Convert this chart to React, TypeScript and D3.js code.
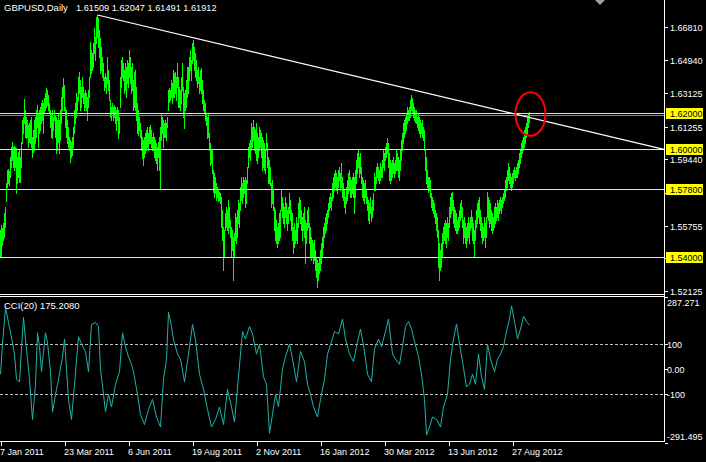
import React from "react";
import * as d3 from "d3";

// ---------- data ----------
const highs = [
1.5552,1.5581,1.5562,1.5589,1.5644,1.5681,1.5811,1.5885,1.5890,1.5877,
1.5959,1.6015,1.6043,1.6015,1.6019,1.6012,1.6006,1.5959,1.5987,1.5996,
1.5959,1.6043,1.6163,1.6181,1.6278,1.6219,1.6181,1.6163,1.6135,1.6144,
1.6163,1.6181,1.6070,1.6107,1.6163,1.6181,1.6219,1.6247,1.6200,1.6219,
1.6237,1.6256,1.6274,1.6256,1.6284,1.6311,1.6339,1.6330,1.6302,1.6256,
1.6219,1.6200,1.6219,1.6181,1.6219,1.6191,1.6181,1.6163,1.6200,1.6163,
1.6219,1.6293,1.6348,1.6395,1.6358,1.6237,1.6219,1.6163,1.6126,1.6070,
1.6052,1.6043,1.6070,1.6126,1.6219,1.6256,1.6311,1.6293,1.6404,1.6432,
1.6385,1.6348,1.6404,1.6348,1.6311,1.6330,1.6311,1.6293,1.6330,1.6404,
1.6598,1.6552,1.6533,1.6589,1.6672,1.6626,1.6737,1.6746,1.6728,1.6663,
1.6617,1.6570,1.6515,1.6478,1.6404,1.6422,1.6404,1.6515,1.6441,1.6385,
1.6274,1.6237,1.6256,1.6237,1.6247,1.6237,1.6219,1.6237,1.6219,1.6181,
1.6404,1.6496,1.6515,1.6478,1.6441,1.6478,1.6459,1.6496,1.6478,1.6552,
1.6515,1.6459,1.6478,1.6385,1.6432,1.6441,1.6348,1.6256,1.6219,1.6181,
1.6144,1.6107,1.6070,1.6052,1.6070,1.6089,1.6107,1.6126,1.6089,1.6126,
1.6135,1.6107,1.6070,1.6089,1.6070,1.6052,1.6033,1.6015,1.6043,1.6070,
1.6126,1.6200,1.6181,1.6163,1.6144,1.6163,1.6144,1.6181,1.6330,1.6339,
1.6330,1.6385,1.6367,1.6441,1.6422,1.6432,1.6404,1.6478,1.6404,1.6348,
1.6330,1.6404,1.6478,1.6348,1.6311,1.6330,1.6385,1.6459,1.6459,1.6515,
1.6552,1.6496,1.6589,1.6607,1.6570,1.6533,1.6496,1.6441,1.6459,1.6404,
1.6441,1.6450,1.6385,1.6330,1.6274,1.6256,1.6200,1.6181,1.6200,1.6089,
1.6033,1.5996,1.5996,1.5885,1.5867,1.5848,1.5811,1.5793,1.5774,1.5765,
1.5756,1.5737,1.5663,1.5570,1.5552,1.5644,1.5681,1.5663,1.5719,1.5681,
1.5607,1.5570,1.5552,1.5515,1.5533,1.5644,1.5626,1.5663,1.5719,1.5700,
1.5793,1.5848,1.5811,1.5848,1.5830,1.5848,1.5830,1.5904,1.6015,1.6033,
1.6052,1.6144,1.6126,1.6163,1.6126,1.6107,1.6144,1.6089,1.6070,1.6126,
1.6107,1.6089,1.6070,1.6052,1.6033,1.5996,1.6089,1.6033,1.5959,1.5941,
1.5904,1.5811,1.5830,1.5774,1.5681,1.5663,1.5607,1.5570,1.5589,1.5644,
1.5663,1.5774,1.5737,1.5700,1.5681,1.5737,1.5700,1.5663,1.5681,1.5756,
1.5719,1.5663,1.5644,1.5570,1.5589,1.5552,1.5626,1.5589,1.5700,1.5737,
1.5719,1.5663,1.5626,1.5644,1.5681,1.5607,1.5589,1.5663,1.5681,1.5589,
1.5570,1.5515,1.5496,1.5478,1.5496,1.5441,1.5404,1.5385,1.5367,1.5404,
1.5441,1.5478,1.5515,1.5570,1.5589,1.5626,1.5644,1.5663,1.5700,1.5737,
1.5756,1.5737,1.5811,1.5848,1.5867,1.5885,1.5867,1.5848,1.5885,1.5904,
1.5867,1.5922,1.5848,1.5811,1.5774,1.5737,1.5793,1.5830,1.5867,1.5885,
1.5848,1.5830,1.5848,1.5867,1.5848,1.5885,1.5941,1.5978,1.5996,1.5959,
1.5978,1.5904,1.5848,1.5830,1.5811,1.5830,1.5774,1.5737,1.5719,1.5700,
1.5737,1.5681,1.5719,1.5756,1.5867,1.5848,1.5904,1.5922,1.5904,1.5885,
1.5922,1.5904,1.5941,1.5996,1.5978,1.6015,1.6033,1.6061,1.6033,1.5978,
1.5941,1.5922,1.5941,1.5959,1.5922,1.5941,1.5996,1.5978,1.5959,1.5941,
1.5996,1.6052,1.6089,1.6144,1.6163,1.6181,1.6200,1.6237,1.6219,1.6237,
1.6274,1.6302,1.6284,1.6256,1.6237,1.6219,1.6219,1.6181,1.6200,1.6181,
1.6163,1.6144,1.6163,1.6126,1.6107,1.5996,1.5959,1.5885,1.5848,1.5848,
1.5830,1.5756,1.5737,1.5719,1.5700,1.5663,1.5644,1.5626,1.5552,1.5478,
1.5441,1.5478,1.5533,1.5570,1.5589,1.5607,1.5589,1.5626,1.5589,1.5681,
1.5737,1.5756,1.5765,1.5719,1.5681,1.5663,1.5644,1.5607,1.5626,1.5663,
1.5700,1.5719,1.5681,1.5607,1.5626,1.5589,1.5570,1.5589,1.5626,1.5589,
1.5626,1.5663,1.5626,1.5589,1.5552,1.5607,1.5663,1.5700,1.5719,1.5737,
1.5663,1.5626,1.5589,1.5570,1.5626,1.5589,1.5626,1.5765,1.5737,1.5719,
1.5700,1.5663,1.5644,1.5626,1.5681,1.5700,1.5681,1.5719,1.5700,1.5719,
1.5737,1.5719,1.5737,1.5756,1.5774,1.5830,1.5848,1.5885,1.5922,1.5904,
1.5867,1.5848,1.5867,1.5885,1.5904,1.5885,1.5904,1.5922,1.5941,1.5978,
1.5996,1.6033,1.6052,1.6070,1.6107,1.6126,1.6144,1.6181,1.6200,1.6205
];

const lows = [
1.5409,1.5404,1.5470,1.5496,1.5515,1.5570,1.5710,1.5793,1.5811,1.5802,
1.5848,1.5904,1.5941,1.5904,1.5885,1.5904,1.5756,1.5811,1.5848,1.5821,
1.5821,1.5904,1.6033,1.6089,1.6144,1.6070,1.6061,1.6070,1.6015,1.6043,
1.6033,1.6015,1.5959,1.5987,1.5996,1.6033,1.6070,1.6126,1.6015,1.6089,
1.6107,1.6144,1.6163,1.6089,1.6200,1.6219,1.6237,1.6247,1.6219,1.6200,
1.6126,1.6070,1.6061,1.6107,1.6163,1.6070,1.5978,1.5996,1.6043,1.5978,
1.6052,1.6144,1.6219,1.6293,1.6219,1.6126,1.6070,1.6033,1.6015,1.5996,
1.5932,1.5959,1.5969,1.6015,1.6089,1.6144,1.6181,1.6219,1.6274,1.6311,
1.6219,1.6237,1.6293,1.6256,1.6219,1.6237,1.6219,1.6163,1.6237,1.6293,
1.6404,1.6422,1.6441,1.6459,1.6533,1.6496,1.6589,1.6626,1.6570,1.6515,
1.6422,1.6441,1.6404,1.6385,1.6330,1.6348,1.6311,1.6367,1.6330,1.6274,
1.6181,1.6163,1.6200,1.6163,1.6181,1.6144,1.6107,1.6163,1.6061,1.6089,
1.6237,1.6348,1.6404,1.6385,1.6311,1.6330,1.6293,1.6367,1.6348,1.6404,
1.6367,1.6311,1.6330,1.6219,1.6237,1.6219,1.6163,1.6089,1.6080,1.6107,
1.6070,1.5996,1.5950,1.5913,1.5959,1.5978,1.5996,1.6015,1.5996,1.6033,
1.6033,1.6015,1.5996,1.5996,1.5959,1.5941,1.5922,1.5885,1.5959,1.5885,
1.5784,1.6052,1.6089,1.6015,1.6070,1.6070,1.6052,1.6126,1.6219,1.6265,
1.6274,1.6293,1.6256,1.6293,1.6293,1.6311,1.6274,1.6348,1.6237,1.6237,
1.6219,1.6256,1.6330,1.6181,1.6117,1.6219,1.6237,1.6293,1.6311,1.6385,
1.6441,1.6385,1.6478,1.6496,1.6441,1.6404,1.6385,1.6348,1.6367,1.6311,
1.6330,1.6311,1.6256,1.6219,1.6200,1.6163,1.6135,1.6061,1.6070,1.5996,
1.5913,1.5922,1.5867,1.5765,1.5737,1.5756,1.5719,1.5737,1.5710,1.5719,
1.5700,1.5570,1.5496,1.5330,1.5404,1.5552,1.5570,1.5552,1.5533,1.5570,
1.5515,1.5404,1.5441,1.5274,1.5404,1.5496,1.5478,1.5515,1.5589,1.5570,
1.5663,1.5719,1.5700,1.5737,1.5756,1.5681,1.5700,1.5811,1.5904,1.5959,
1.5941,1.5996,1.6015,1.6052,1.5996,1.5978,1.5941,1.5922,1.5959,1.5996,
1.6015,1.5959,1.5885,1.5904,1.5885,1.5867,1.5996,1.5904,1.5811,1.5811,
1.5802,1.5681,1.5700,1.5663,1.5552,1.5496,1.5478,1.5459,1.5478,1.5496,
1.5515,1.5663,1.5626,1.5589,1.5570,1.5626,1.5589,1.5552,1.5589,1.5644,
1.5607,1.5552,1.5496,1.5424,1.5459,1.5478,1.5496,1.5478,1.5570,1.5626,
1.5589,1.5552,1.5496,1.5552,1.5515,1.5367,1.5478,1.5552,1.5570,1.5478,
1.5404,1.5385,1.5404,1.5367,1.5385,1.5330,1.5293,1.5237,1.5274,1.5311,
1.5330,1.5367,1.5404,1.5459,1.5515,1.5533,1.5552,1.5589,1.5626,1.5663,
1.5681,1.5663,1.5719,1.5737,1.5774,1.5793,1.5774,1.5756,1.5793,1.5830,
1.5774,1.5793,1.5737,1.5719,1.5681,1.5644,1.5700,1.5719,1.5756,1.5774,
1.5737,1.5737,1.5756,1.5737,1.5644,1.5737,1.5811,1.5867,1.5904,1.5848,
1.5867,1.5811,1.5737,1.5719,1.5700,1.5737,1.5700,1.5663,1.5607,1.5589,
1.5644,1.5599,1.5626,1.5663,1.5774,1.5774,1.5811,1.5848,1.5830,1.5811,
1.5830,1.5848,1.5848,1.5904,1.5885,1.5941,1.5959,1.5978,1.5904,1.5830,
1.5811,1.5830,1.5848,1.5867,1.5848,1.5867,1.5885,1.5885,1.5848,1.5830,
1.5885,1.5941,1.5996,1.6033,1.6070,1.6089,1.6107,1.6144,1.6163,1.6163,
1.6181,1.6219,1.6200,1.6181,1.6163,1.6154,1.6144,1.6126,1.6107,1.6089,
1.6070,1.6089,1.6070,1.6052,1.5996,1.5885,1.5811,1.5793,1.5765,1.5774,
1.5737,1.5681,1.5663,1.5644,1.5626,1.5589,1.5552,1.5515,1.5348,1.5274,
1.5330,1.5348,1.5404,1.5478,1.5496,1.5478,1.5459,1.5515,1.5496,1.5570,
1.5626,1.5644,1.5663,1.5589,1.5570,1.5552,1.5533,1.5533,1.5552,1.5570,
1.5607,1.5626,1.5570,1.5478,1.5515,1.5478,1.5459,1.5496,1.5515,1.5478,
1.5552,1.5570,1.5496,1.5478,1.5404,1.5496,1.5570,1.5589,1.5626,1.5589,
1.5552,1.5515,1.5478,1.5496,1.5515,1.5459,1.5515,1.5626,1.5607,1.5570,
1.5589,1.5552,1.5533,1.5552,1.5570,1.5589,1.5607,1.5626,1.5607,1.5644,
1.5663,1.5644,1.5681,1.5700,1.5719,1.5737,1.5774,1.5793,1.5830,1.5811,
1.5793,1.5774,1.5793,1.5811,1.5848,1.5830,1.5848,1.5848,1.5867,1.5904,
1.5922,1.5959,1.5978,1.5996,1.6015,1.6033,1.6070,1.6089,1.6126,1.6149
];

// CCI(20) readings (bar index, value)
const cciBars = [0,2,5,8,10,12,14,16,19,21,23,25,27,29,32,35,37,39,41,45,47,50,52,55,58,62,64,68,71,74,78,81,85,88,91,95,98,100,103,105,108,111,115,119,122,125,128,131,133,137,140,144,148,152,156,160,163,166,168,171,173,177,180,184,188,192,195,197,199,203,207,211,215,219,223,227,231,234,238,242,245,249,252,256,259,263,266,269,272,275,278,282,285,289,292,296,300,304,307,310,313,317,320,324,327,331,334,338,342,345,349,353,357,360,364,367,371,374,378,381,385,388,392,395,399,402,405,408,411,414,418,421,424,426,429,432,436,440,443,447,450,453,456,459,462,466,469,472,475,478,481,484,487,490,494,497,500,503,506,509,511,514,517,520,523,526,529];
const cciVals = [-20,100,246,186,145,105,60,-40,-50,80,206,117,40,-40,-200,-60,145,90,-10,145,105,-10,-170,-100,-40,49,120,-120,-200,-60,129,100,69,-10,178,186,170,0,-100,-170,-100,-150,-60,-10,145,89,49,20,-10,-100,-180,-220,-160,-120,-190,-230,-40,40,226,170,117,60,40,-50,60,178,117,49,-20,-80,-160,-230,-200,-150,-220,-80,-150,-210,-30,150,120,170,140,60,100,-30,-60,-255,-180,-100,-150,0,50,100,40,-50,70,30,-60,-100,-150,-190,-120,-40,60,110,150,140,200,120,60,30,110,160,70,-20,-50,80,120,90,150,200,60,40,20,90,170,190,160,110,50,-20,-120,-262,-230,-190,-200,-230,-150,-100,40,120,180,100,30,-70,-60,-20,-60,60,-30,-80,100,40,-10,40,60,90,150,200,252,190,120,160,210,190,175];

const priceTicks = [1.6681, 1.6494, 1.63125, 1.61255, 1.5944, 1.5757, 1.55755, 1.5394, 1.52125];
const priceTickLabels = ["1.66810", "1.64940", "1.63125", "1.61255", "1.59440", "", "1.55755", "", "1.52125"];
const levelPrices = [1.62, 1.6, 1.578, 1.54];
const levelLabels = ["1.62000", "1.60000", "1.57800", "1.54000"];
const bidPrice = 1.61912;
const symbolTitle = "GBPUSD,Daily";
const ohlcLabels = ["1.61509", "1.62047", "1.61491", "1.61912"];
const dateBars = [1, 65, 129, 193, 257, 321, 385, 449, 513];
const dateLabels = ["7 Jan 2011", "23 Mar 2011", "6 Jun 2011", "19 Aug 2011", "2 Nov 2011", "16 Jan 2012", "30 Mar 2012", "13 Jun 2012", "27 Aug 2012"];
const cciTicks = [287.271, 100, 0, -100, -291.495];
const cciTickLabels = ["287.271", "100", "0.00", "-100", "-291.495"];
const cciLevels = [100, -100];
const cciTitle = "CCI(20) 175.2080";
const trendBars = [97, 399];
const trendPrices = [1.6746, 1.6348];
const ellipseBar = 530;
const ellipsePrice = 1.6196;
const ellipseBarRadius = 15;
const ellipsePriceRadius = 0.0121;

// ---------- layout ----------
const W = 706;
const H = 462;
const RIGHT = 664;
const MAIN_BOTTOM = 294;
const SUB_TOP = 297;
const SUB_BOTTOM = 441;
const FONT = "'Liberation Sans', Arial, sans-serif";

export default function App() {
  const x = d3.scaleLinear().domain([0, RIGHT]).range([0, RIGHT]);
  const y = d3.scaleLinear().domain([1.519611, 1.682944]).range([MAIN_BOTTOM, 0]);
  const yc = d3.scaleLinear().domain([-291.495, 287.271]).range([SUB_BOTTOM + 1.5, SUB_TOP]);
  const px = (v: number) => Math.round(v) + 0.5;

  const cciLine = d3
    .line<number>()
    .x((_, i) => x(cciBars[i]) + 0.5)
    .y((v) => yc(v));

  const tx1 = x(trendBars[0]) + 0.5;
  const ty1 = y(trendPrices[0]);
  const tx2 = x(trendBars[1]) + 0.5;
  const ty2 = y(trendPrices[1]);
  const slope = (ty2 - ty1) / (tx2 - tx1);
  const tyEnd = ty1 + (RIGHT - tx1) * slope;

  const ecx = x(ellipseBar) + 0.5;
  const ecy = y(ellipsePrice);
  const erx = x(ellipseBarRadius) - x(0);
  const ery = y(ellipsePrice - ellipsePriceRadius) - y(ellipsePrice);

  return (
    <div style={{ position: "fixed", left: 0, top: 0, width: W, height: H, background: "#000" }}>
      <svg width={W} height={H} style={{ display: "block" }} fontFamily={FONT}>
        <rect x={0} y={0} width={W} height={H} fill="#000" />
        <defs>
          <clipPath id="mainClip">
            <rect x={0} y={0} width={RIGHT} height={MAIN_BOTTOM} />
          </clipPath>
          <clipPath id="subClip">
            <rect x={0} y={SUB_TOP} width={RIGHT} height={SUB_BOTTOM - SUB_TOP} />
          </clipPath>
        </defs>

        {/* price bars */}
        <g clipPath="url(#mainClip)" shapeRendering="crispEdges">
          {highs.map((h, i) => (
            <rect
              key={i}
              x={x(i)}
              y={Math.round(y(h))}
              width={1}
              height={Math.max(1, Math.round(y(lows[i])) - Math.round(y(h)) + 1)}
              fill="#00FF00"
            />
          ))}
        </g>

        {/* horizontal levels */}
        <g shapeRendering="crispEdges">
          {levelPrices.map((p, i) => (
            <line key={i} x1={0} x2={RIGHT} y1={px(y(p))} y2={px(y(p))} stroke="#FFFF00" strokeWidth={1} />
          ))}
          <line x1={0} x2={RIGHT} y1={px(y(bidPrice))} y2={px(y(bidPrice))} stroke="#778899" strokeWidth={1} />
        </g>

        {/* trend line */}
        <line x1={tx1} y1={ty1} x2={RIGHT} y2={tyEnd} stroke="#FFFFFF" strokeWidth={1.2} />

        {/* ellipse */}
        <ellipse cx={ecx} cy={ecy} rx={erx} ry={ery} fill="none" stroke="#FF0000" strokeWidth={2} />

        {/* chart shift marker */}
        <polygon points="595,0 605,0 600,5" fill="#A0A0A0" />

        {/* CCI */}
        <g clipPath="url(#subClip)">
          <g shapeRendering="crispEdges">
            {cciLevels.map((v, i) => (
              <line key={i} x1={0} x2={RIGHT} y1={px(yc(v))} y2={px(yc(v))} stroke="#C0C0C0" strokeDasharray="3,2" />
            ))}
          </g>
          <path d={cciLine(cciVals) || ""} fill="none" stroke="#20B2AA" strokeWidth={1} />
        </g>

        {/* frames */}
        <g stroke="#FFFFFF" strokeWidth={1} shapeRendering="crispEdges">
          <line x1={RIGHT + 0.5} x2={RIGHT + 0.5} y1={0} y2={SUB_BOTTOM + 1} />
          <line x1={0} x2={RIGHT + 1} y1={MAIN_BOTTOM + 0.5} y2={MAIN_BOTTOM + 0.5} />
          <line x1={0} x2={RIGHT + 1} y1={SUB_TOP - 0.5} y2={SUB_TOP - 0.5} />
          <line x1={0} x2={RIGHT + 1} y1={SUB_BOTTOM + 0.5} y2={SUB_BOTTOM + 0.5} />
        </g>

        {/* price axis */}
        <g fontSize={9} fill="#FFFFFF">
          {priceTicks.map((p, i) => (
            <g key={i}>
              <line x1={RIGHT + 1} x2={RIGHT + 4} y1={px(y(p))} y2={px(y(p))} stroke="#FFFFFF" shapeRendering="crispEdges" />
              {priceTickLabels[i] ? (
                <text x={670} y={px(y(p))} dominantBaseline="central">
                  {priceTickLabels[i]}
                </text>
              ) : null}
            </g>
          ))}
          {levelPrices.map((p, i) => (
            <g key={"l" + i}>
              <rect x={666} y={Math.round(y(p)) - 5} width={37} height={11} fill="#FFFF00" />
              <text x={670} y={px(y(p))} dominantBaseline="central" fill="#000000">
                {levelLabels[i]}
              </text>
            </g>
          ))}
        </g>

        {/* CCI axis */}
        <g fontSize={9} fill="#FFFFFF">
          {cciTicks.map((v, i) => {
            const yy = i === 0 ? SUB_TOP + 6 : i === cciTicks.length - 1 ? SUB_BOTTOM - 4 : px(yc(v));
            return (
              <g key={i}>
                <line x1={RIGHT + 1} x2={RIGHT + 4} y1={px(yc(v))} y2={px(yc(v))} stroke="#FFFFFF" shapeRendering="crispEdges" />
                <text x={667} y={yy} dominantBaseline="central">
                  {cciTickLabels[i]}
                </text>
              </g>
            );
          })}
        </g>

        {/* time axis */}
        <g fontSize={9} fill="#FFFFFF">
          {dateBars.map((b, i) => (
            <g key={i}>
              <line x1={x(b) + 0.5} x2={x(b) + 0.5} y1={SUB_BOTTOM + 1} y2={SUB_BOTTOM + 5} stroke="#FFFFFF" shapeRendering="crispEdges" />
              <text x={x(b) - 1} y={455}>
                {dateLabels[i]}
              </text>
            </g>
          ))}
        </g>

        {/* titles */}
        <text x={4} y={11} fontSize={9.5} fill="#FFFFFF">
          {symbolTitle}
        </text>
        <text x={76} y={11} fontSize={9.2} fill="#FFFFFF">
          {ohlcLabels.join(" ")}
        </text>
        <text x={4} y={309} fontSize={9.5} fill="#FFFFFF">
          {cciTitle}
        </text>
      </svg>
    </div>
  );
}
